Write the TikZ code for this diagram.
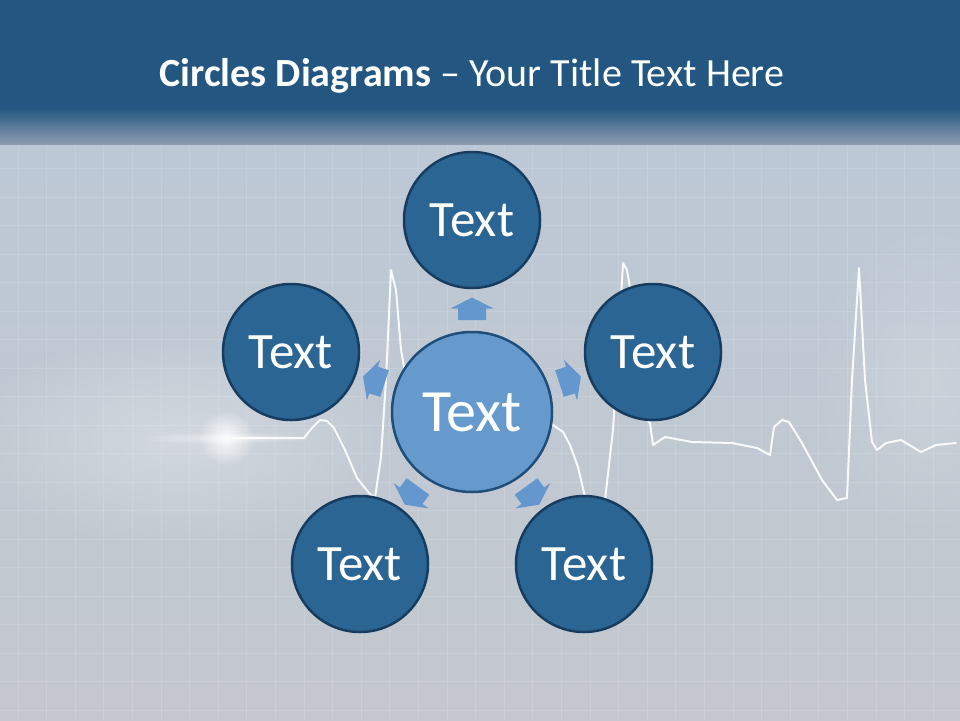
\documentclass[tikz,border=0pt]{standalone}
\usepackage{fontspec}
\setmainfont{Carlito}
\usetikzlibrary{fadings}
\tikzfading[name=glowfade, inner color=transparent!0, outer color=transparent!100]
\definecolor{band}{HTML}{235781}
\definecolor{bandlow}{HTML}{8E9DB1}
\definecolor{bgtop}{HTML}{BCC8D5}
\definecolor{bgbot}{HTML}{C4C8CE}
\definecolor{outerfill}{HTML}{2B6594}
\definecolor{outerline}{HTML}{163D60}
\definecolor{innerfill}{HTML}{6699CC}
\definecolor{innerline}{HTML}{1F4E7A}
\definecolor{arrowfill}{HTML}{6497CD}
\tikzset{
  gridline/.style={white, opacity=0.12, line width=0.8pt},
  outercircle/.style={circle, draw=outerline, fill=outerfill, line width=2.5pt,
    minimum size=136pt, inner sep=0pt, text=white, font=\fontsize{51}{55}\selectfont},
  innercircle/.style={circle, draw=innerline, fill=innerfill, line width=2.5pt,
    minimum size=160pt, inner sep=0pt, text=white, font=\fontsize{60}{64}\selectfont},
  titletext/.style={text=white, font=\fontsize{40}{44}\selectfont, inner sep=0pt},
  ecg/.style={white, opacity=0.9, line width=2pt, line join=round, line cap=round},
  blockarrow/.style={fill=arrowfill}
}
\begin{document}
\begin{tikzpicture}[x=1pt,y=-1pt]
\useasboundingbox (0,0) rectangle (960,720);
% background
\shade[top color=bgtop, bottom color=bgbot] (0,144) rectangle (960,720);
\fill[white, opacity=0.3, path fading=glowfade] (180,440) ellipse (220 and 110);
\fill[white, opacity=0.18, path fading=glowfade] (930,380) ellipse (120 and 160);
\foreach \gx in {18,46.6,...,960} \draw[gridline] (\gx,144) -- (\gx,720);
\foreach \gy in {168.5,197,...,720} \draw[gridline] (0,\gy) -- (960,\gy);
% title band
\fill[band] (0,0) rectangle (960,108.5);
\shade[top color=band, bottom color=bandlow] (0,108) rectangle (960,144.5);
\node[titletext] (title) at (472,76) {\textbf{Circles Diagrams} – Your Title Text Here};
% glow
\fill[white, opacity=0.9, path fading=glowfade] (226,438) circle (28);
\fill[white, opacity=0.5, path fading=glowfade] (226,438) ellipse (90 and 6);
% ECG
\draw[ecg] (232,438) -- (304,438) -- (312,428) -- (320,420) -- (327,421) -- (334,428) -- (345,450)
  -- (357,478) -- (369,493) -- (375,498) -- (381,457) -- (386,380) -- (391,270) -- (396,290)
  -- (401,350) -- (410,400) -- (430,430) -- (520,425) -- (553,425) -- (563,432) -- (570,445)
  -- (578,467) -- (585,497) -- (595,505) -- (605,500) -- (613,430) -- (618,350) -- (623,263)
  -- (627,270) -- (632,300) -- (645,418) -- (650,423) -- (653,445) -- (665,437) -- (692,442)
  -- (732,443) -- (757,448) -- (770,455) -- (774,427) -- (782,420) -- (789,422) -- (802,443)
  -- (822,480) -- (837,500) -- (847,498) -- (852,380) -- (859,268) -- (865,380) -- (872,442)
  -- (877,450) -- (886,443) -- (901,440) -- (921,452) -- (936,445) -- (956,443);
% circles
\node[innercircle] (c) at (472,412) {Text};
\node[outercircle] (t) at (472,220) {Text};
\node[outercircle] (l) at (291,352) {Text};
\node[outercircle] (r) at (653,352) {Text};
\node[outercircle] (bl) at (360,564) {Text};
\node[outercircle] (br) at (584,564) {Text};
% arrows
\foreach \a in {0,72,144,216,288}
  \fill[blockarrow, rotate around={\a:(c.center)}]
    (458,320) -- (458,308.5) -- (450.5,308.5) -- (472,297.5) -- (493.5,308.5)
    -- (486,308.5) -- (486,320) -- cycle;
\end{tikzpicture}
\end{document}
